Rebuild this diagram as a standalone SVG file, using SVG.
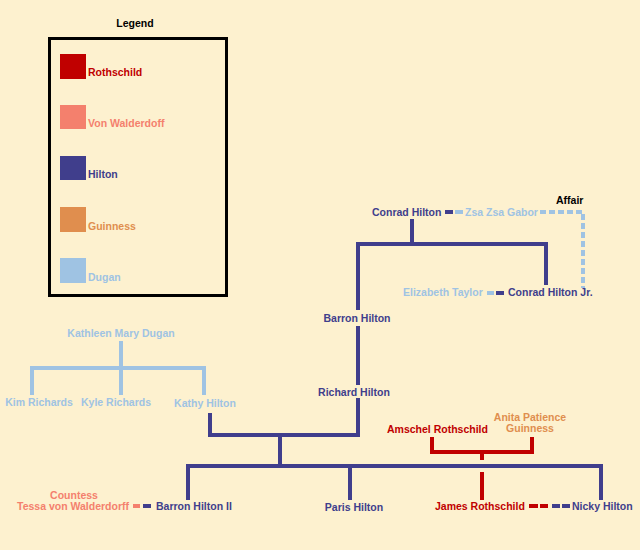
<svg xmlns="http://www.w3.org/2000/svg" width="640" height="550" viewBox="0 0 640 550">
<style>
text{font-family:"Liberation Sans",Arial,sans-serif;font-weight:bold;font-size:10.5px}
.r{fill:#c00000}.s{fill:#f4806d}.h{fill:#403e8c}.g{fill:#e08e4e}.d{fill:#9fc3e3}.k{fill:#000}
.m{text-anchor:middle}
.lr{stroke:#c00000}.lh{stroke:#403e8c}.ld{stroke:#9fc3e3}.ls{stroke:#f4806d}
line,polyline,path{fill:none;stroke-width:4}
</style>
<rect width="640" height="550" fill="#fdf1cf"/>
<g id="legend">
<text class="k m" x="135" y="27" font-size="11.5">Legend</text>
<rect x="49.5" y="38.5" width="177" height="257" fill="none" stroke="#000" stroke-width="3"/>
<rect x="60" y="54" width="26" height="25" fill="#c00000"/><text class="r" x="88" y="76">Rothschild</text>
<rect x="60" y="105" width="26" height="24" fill="#f4806d"/><text class="s" x="88" y="127">Von Walderdoff</text>
<rect x="60" y="156" width="26" height="24" fill="#403e8c"/><text class="h" x="88" y="178">Hilton</text>
<rect x="60" y="207" width="26" height="25" fill="#e08e4e"/><text class="g" x="88" y="230">Guinness</text>
<rect x="60" y="258" width="26" height="25" fill="#9fc3e3"/><text class="d" x="88" y="281">Dugan</text>
</g>
<g id="connectors">
<line class="lh" x1="445" y1="212" x2="453" y2="212"/>
<line class="ld" x1="455" y1="212" x2="463" y2="212"/>
<path class="ld" d="M540 212 H583 V288" stroke-dasharray="6 3"/>
<line class="lh" x1="412" y1="219" x2="412" y2="244"/>
<polyline class="lh" points="358,310 358,244 546,244 546,285"/>
<line class="ld" x1="487" y1="293" x2="494" y2="293"/>
<line class="lh" x1="496" y1="293" x2="504" y2="293"/>
<line class="lh" x1="358" y1="326" x2="358" y2="385"/>
<polyline class="lh" points="358,398 358,435 210,435 210,413"/>
<line class="ld" x1="121" y1="341" x2="121" y2="395"/>
<polyline class="ld" points="32,395 32,368 204,368 204,395"/>
<polyline class="lh" points="280,435 280,466"/>
<polyline class="lh" points="188,500 188,466 601,466 601,500"/>
<line class="lh" x1="350" y1="466" x2="350" y2="500"/>
<polyline class="lr" points="432,437 432,452 532,452 532,437"/>
<line class="lr" x1="482" y1="452" x2="482" y2="460"/>
<line class="lr" x1="482" y1="472" x2="482" y2="500"/>
<line class="lr" x1="529" y1="506" x2="538" y2="506"/>
<line class="lr" x1="540" y1="506" x2="548" y2="506"/>
<line class="lh" x1="552" y1="506" x2="560" y2="506"/>
<line class="lh" x1="562" y1="506" x2="570" y2="506"/>
<line class="ls" x1="133" y1="506" x2="140" y2="506"/>
<line class="lh" x1="143" y1="506" x2="151" y2="506"/>
</g>
<g id="conrad"><text class="h" x="372" y="216">Conrad Hilton</text></g>
<g id="zsazsa"><text class="d" x="465" y="216">Zsa Zsa Gabor</text></g>
<g id="affair"><text class="k" x="556" y="204">Affair</text></g>
<g id="elizabeth"><text class="d" x="403" y="296">Elizabeth Taylor</text></g>
<g id="conradjr"><text class="h" x="508" y="296">Conrad Hilton Jr.</text></g>
<g id="barron"><text class="h m" x="357" y="322">Barron Hilton</text></g>
<g id="richard"><text class="h m" x="354" y="396">Richard Hilton</text></g>
<g id="kathleen"><text class="d m" x="121" y="337">Kathleen Mary Dugan</text></g>
<g id="kim"><text class="d m" x="39" y="406">Kim Richards</text></g>
<g id="kyle"><text class="d m" x="116" y="406">Kyle Richards</text></g>
<g id="kathy"><text class="d m" x="205" y="407">Kathy Hilton</text></g>
<g id="amschel"><text class="r" x="387" y="433">Amschel Rothschild</text></g>
<g id="anita"><text class="g m" x="530" y="421">Anita Patience</text><text class="g m" x="530" y="432">Guinness</text></g>
<g id="tessa"><text class="s m" x="74" y="499">Countess</text><text class="s" x="17" y="510">Tessa von Walderdorff</text></g>
<g id="barron2"><text class="h" x="156" y="510">Barron Hilton II</text></g>
<g id="paris"><text class="h m" x="354" y="511">Paris Hilton</text></g>
<g id="james"><text class="r" x="435" y="510">James Rothschild</text></g>
<g id="nicky"><text class="h" x="572" y="510">Nicky Hilton</text></g>
</svg>
